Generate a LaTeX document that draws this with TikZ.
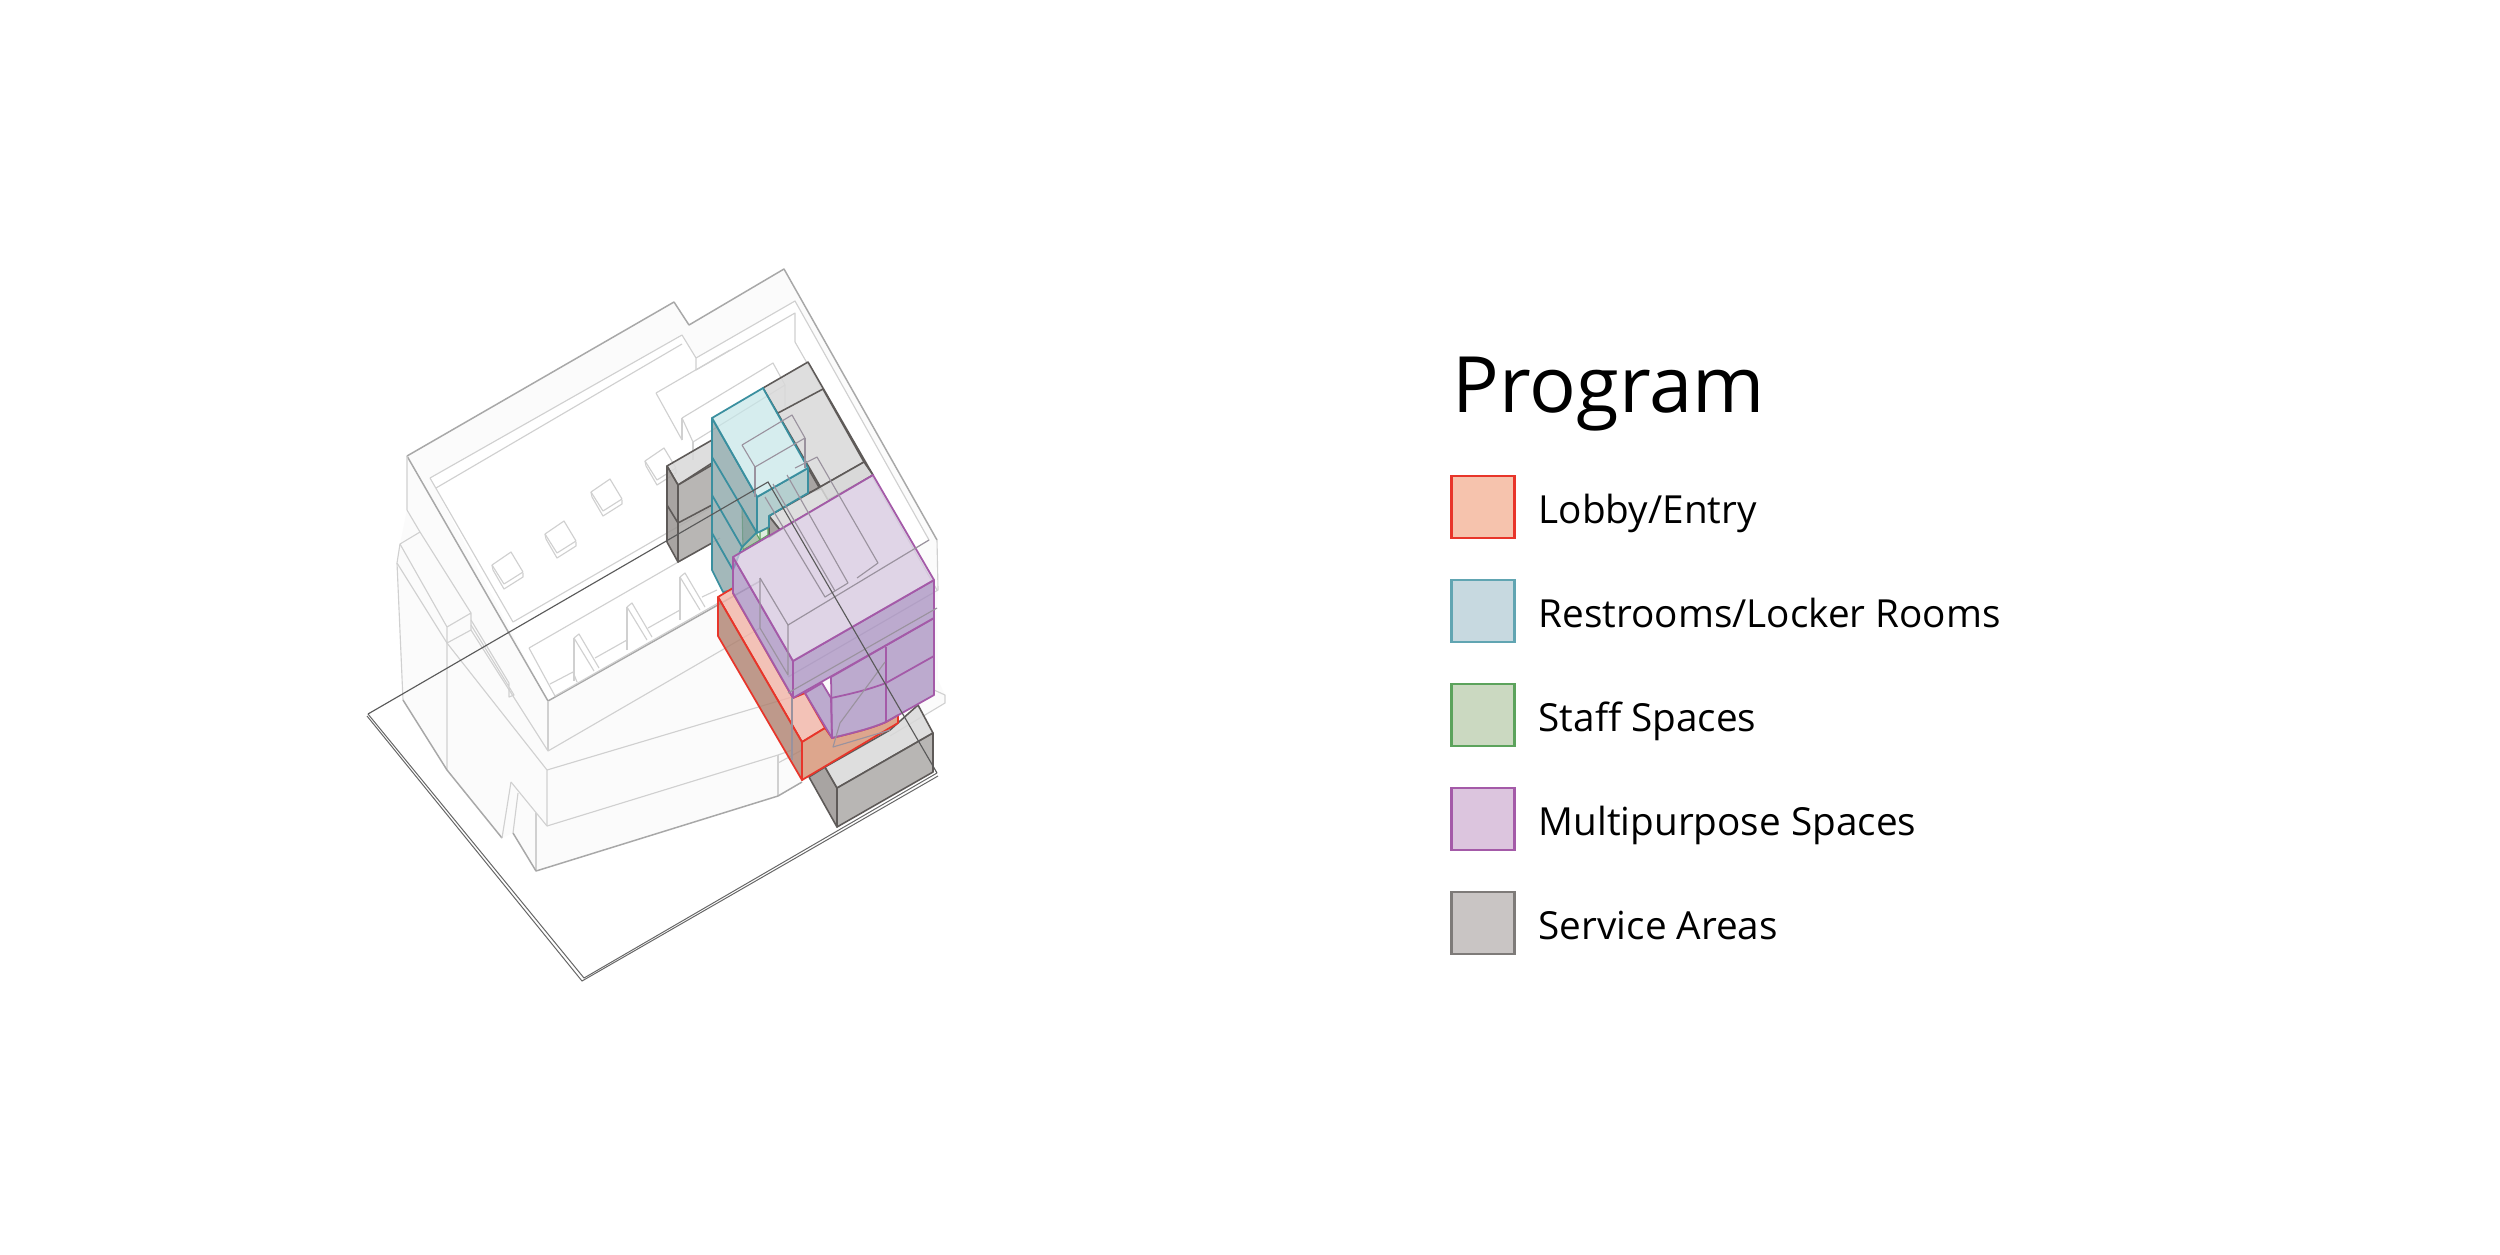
\documentclass[tikz,border=0pt]{standalone}
\usepackage{fontspec}
\setmainfont{Open Sans}
\definecolor{bldline}{HTML}{D0D0D0}
\definecolor{bldedge}{HTML}{A8A8A8}
\definecolor{bldfill}{HTML}{FBFBFB}
\definecolor{overline}{HTML}{9A929E}
\definecolor{lobbyline}{HTML}{E8352A}
\definecolor{roomline}{HTML}{3A8F9F}
\definecolor{staffline}{HTML}{5CA35C}
\definecolor{multiline}{HTML}{A45AA8}
\definecolor{serviceline}{HTML}{5E5A58}
\definecolor{multitop}{HTML}{D6C8E0}
\definecolor{multiside}{HTML}{A78FC0}
\definecolor{roomtop}{HTML}{C6E6E8}
\definecolor{roomleft}{HTML}{7D9B9E}
\definecolor{roomright}{HTML}{96BBBB}
\definecolor{lobbytop}{HTML}{F2B4A7}
\definecolor{lobbyleft}{HTML}{AF816F}
\definecolor{lobbyfront}{HTML}{D69172}
\definecolor{servicetop}{HTML}{D9D9D9}
\definecolor{serviceleft}{HTML}{999592}
\definecolor{servicefront}{HTML}{ACAAA8}
\definecolor{lobbykey}{HTML}{F6C3AD}
\definecolor{roomkey}{HTML}{C7D9E0}
\definecolor{staffkey}{HTML}{CBD9C1}
\definecolor{multikey}{HTML}{DCC5DE}
\definecolor{servicekey}{HTML}{C9C5C4}
\tikzset{
  bld/.style={draw=bldline, line width=0.32pt, line join=round},
  bldout/.style={draw=bldedge, line width=0.42pt, line join=round},
  overbld/.style={draw=overline, line width=0.32pt, line join=round},
  siteedge/.style={draw=black!60, line width=0.28pt},
  lobby/.style={draw=lobbyline, line width=0.5pt, line join=round, fill opacity=0.8},
  room/.style={draw=roomline, line width=0.5pt, line join=round, fill opacity=0.7},
  multi/.style={draw=multiline, line width=0.5pt, line join=round, fill opacity=0.75},
  service/.style={draw=serviceline, line width=0.45pt, line join=round, fill opacity=0.85},
  swatch/.style={minimum width=0.63cm, minimum height=0.62cm, inner sep=0pt, line width=0.6pt},
  legendtext/.style={anchor=base west, inner sep=0pt, font=\fontsize{11}{14}\selectfont},
}
\begin{document}
\begin{tikzpicture}[x=0.01cm,y=-0.01cm]
\useasboundingbox (0,0) rectangle (2500,1254);
\fill[white] (0,0) rectangle (2500,1254);
\draw[siteedge] (367,716) -- (582,981) -- (938,776);
\draw[siteedge] (368,714) -- (584,978) -- (937,773);
\fill[bldfill] (407,456) -- (674,302) -- (689,325) -- (784,269) -- (937,540) -- (938,590) -- (937,608) -- (938,680) -- (945,695) -- (945,703) -- (890,736) -- (802,782) -- (778,796) -- (536,871) -- (513,833) -- (502,838) -- (447,770) -- (403,700) -- (397,563) -- (400,544) -- (407,510) -- cycle;
\fill[white] (430,478) -- (682,335) -- (696,358) -- (795,301) -- (929,540) -- (788,625) -- (760,578) -- (548,701) -- cycle;
\draw[bldout] (407,456) -- (674,302) -- (689,325) -- (784,269) -- (937,540);
\draw[bldout] (407,456) -- (548,701) -- (762,580);
\draw[bld] (937,540) -- (938,590) -- (788,677);
\draw[bld] (407,456) -- (407,510) -- (420,532) -- (400,544) -- (447,627) -- (471,613) -- (471,630) -- (447,643) -- (447,627);
\draw[bld] (400,544) -- (397,563) -- (447,643) -- (447,770);
\draw[bld] (397,563) -- (403,700);
\draw[bldout] (403,700) -- (447,770) -- (502,838);
\draw[bld] (420,532) -- (471,613);
\draw[bld] (471,620) -- (509,683) -- (509,697) -- (514,695) -- (471,625);
\draw[bld] (447,643) -- (547,770) -- (547,826);
\draw[bld] (471,630) -- (548,751) -- (760,628);
\draw[bld] (548,701) -- (548,751);
\draw[bld] (547,770) -- (792,697);
\draw[bld] (547,826) -- (778,755) -- (792,750);
\draw[bld] (778,755) -- (778,796);
\draw[bld] (778,763) -- (802,750);
\draw[bld] (536,813) -- (536,871);
\draw[bld] (511,782) -- (547,826);
\draw[bld] (518,793) -- (513,833);
\draw[bld] (511,782) -- (502,838);
\draw[bldout] (513,833) -- (536,871) -- (778,796) -- (802,782);
\draw[bld] (430,478) -- (682,335) -- (696,358) -- (696,370);
\draw[bld] (436,488) -- (682,344);
\draw[bld] (430,478) -- (513,622) -- (712,507);
\draw[bld] (696,358) -- (795,301) -- (929,540) -- (788,625) -- (760,578);
\draw[bld] (696,370) -- (795,313) -- (795,342);
\draw[bld] (795,342) -- (937,590);
\foreach \sx/\sy in {492/565,545/534,591/492,645/461} {
  \draw[bld] (\sx,\sy) -- ++(19,-13) -- ++(12,20) -- ++(-19,12) -- cycle;
  \draw[bld] (\sx,\sy) -- ++(1,5) -- ++(11,19) -- ++(19,-12) -- ++(0,-4);
}
\draw[bld] (529,648) -- (720,538);
\draw[bld] (529,648) -- (555,696) -- (720,602);
\draw[bld] (550,684) -- (573,672) -- (577,682);
\foreach \wx/\wy in {574/638,627/607,680/577} {
  \draw[bld] (\wx,\wy) -- ++(5,-4) -- ++(20,34);
  \draw[bld] (\wx,\wy) -- ++(0,43);
  \draw[bld] (\wx,\wy) -- ++(20,33);
}
\draw[bld] (595,658) -- (627,640);
\draw[bld] (648,628) -- (680,610);
\draw[bld] (702,597) -- (717,590);
\draw[bld] (656,393) -- (730,350);
\draw[bld] (656,393) -- (682,440);
\draw[bld] (682,418) -- (773,363) -- (785,385) -- (785,407);
\draw[bld] (682,418) -- (682,440);
\draw[bld] (682,418) -- (693,442) -- (785,385);
\draw[bld] (693,442) -- (693,460);
\draw[bld] (890,736) -- (945,703) -- (945,695) -- (934,690);
\filldraw[service,fill=servicetop] (763,388) -- (808,362) -- (873,475) -- (828,500) -- cycle;
\filldraw[service,fill=serviceleft] (808,468) -- (820,489) -- (808,493) -- cycle;
\draw[service] (778,413) -- (823,389) -- (864,462) -- (769,516);
\filldraw[service,fill=servicetop] (769,516) -- (864,462) -- (873,475) -- (780,530) -- cycle;
\filldraw[service,fill=serviceleft] (769,516) -- (780,530) -- (769,537) -- cycle;
\filldraw[service,fill=servicetop] (667,466) -- (712,440) -- (712,463) -- (678,485) -- cycle;
\filldraw[service,fill=serviceleft] (667,466) -- (678,485) -- (678,562) -- (667,542) -- cycle;
\filldraw[service,fill=servicefront] (678,485) -- (712,465) -- (712,543) -- (678,562) -- cycle;
\draw[service] (667,505) -- (678,523) -- (712,505);
\filldraw[service,fill=serviceleft] (809,777) -- (825,767) -- (837,788) -- (837,827) -- cycle;
\filldraw[service,fill=servicetop] (825,767) -- (890,730) -- (918,705) -- (933,733) -- (837,788) -- cycle;
\filldraw[service,fill=servicefront] (837,788) -- (933,733) -- (933,772) -- (837,827) -- cycle;
\filldraw[draw=staffline,line width=0.3pt,fill=staffline!45!gray!55] (742,507) -- (760,540) -- (743,550) -- cycle;
\filldraw[draw=staffline,line width=0.3pt,fill=staffline!20] (760,532) -- (768,528) -- (768,535) -- (760,540) -- cycle;
\filldraw[room,fill=roomleft] (712,418) -- (757,497) -- (757,532) -- (742,547) -- (733,570) -- (733,590) -- (723,592) -- (712,570) -- cycle;
\filldraw[room,fill=roomright] (757,497) -- (808,468) -- (808,493) -- (769,516) -- (769,527) -- (757,533) -- cycle;
\filldraw[room,fill=roomtop] (712,418) -- (763,388) -- (808,468) -- (757,497) -- cycle;
\draw[room] (712,457) -- (757,533);
\draw[room] (712,495) -- (742,547);
\draw[room] (712,533) -- (733,570);
\draw[overbld] (742,445) -- (792,415) -- (805,438) -- (755,467) -- (742,445);
\draw[overbld] (755,467) -- (755,497);
\draw[overbld] (805,438) -- (805,468);
\filldraw[lobby,fill=lobbytop] (718,597) -- (733,588) -- (733,593) -- (793,698) -- (805,693) -- (825,728) -- (802,742) -- cycle;
\filldraw[lobby,fill=lobbyleft] (718,597) -- (802,742) -- (802,780) -- (718,636) -- cycle;
\filldraw[lobby,fill=lobbyfront] (802,742) -- (825,728) -- (832,738) .. controls (852,733) and (870,729) .. (886,722) -- (898,715) -- (898,723) -- (802,780) -- cycle;
\filldraw[multi,fill=multiside] (805,693) -- (822,683) -- (831,698) -- (832,738) -- cycle;
\filldraw[multi,fill=multiside] (831,677) -- (934,618) -- (934,695) -- (886,722) .. controls (870,729) and (852,733) .. (832,738) -- cycle;
\draw[multi] (886,647) -- (886,722);
\draw[multi] (831,698) .. controls (855,693) and (870,689) .. (886,683) -- (934,656);
\filldraw[multi,fill=multiside] (733,557) -- (793,661) -- (793,698) -- (733,593) -- cycle;
\filldraw[multi,fill=multiside] (793,661) -- (934,580) -- (934,618) -- (793,698) -- cycle;
\filldraw[multi,fill=multitop] (733,557) -- (873,475) -- (934,580) -- (793,661) -- cycle;
\draw[overbld] (760,578) -- (788,625) -- (929,540);
\draw[overbld] (760,578) -- (760,628) -- (788,675) -- (788,625);
\draw[overbld] (937,608) -- (788,693);
\draw[overbld] (795,468) -- (817,457) -- (878,563) -- (857,578);
\draw[overbld] (787,475) -- (848,583);
\draw[overbld] (765,497) -- (825,597) -- (848,583);
\draw[overbld] (773,484) -- (835,591);
\draw[overbld] (885,662) -- (840,723) -- (833,747) -- (890,730);
\draw[overbld] (792,698) -- (792,760);
\draw[draw=black!65,line width=0.32pt] (368,714) -- (768,482) -- (937,773);
\node[swatch,draw=lobbyline,fill=lobbykey] (lobbybox) at (1483,507) {};
\node[swatch,draw=roomline!80!white,fill=roomkey] (roombox) at (1483,611) {};
\node[swatch,draw=staffline,fill=staffkey] (staffbox) at (1483,715) {};
\node[swatch,draw=multiline,fill=multikey] (multibox) at (1483,819) {};
\node[swatch,draw=serviceline!80!white,fill=servicekey] (servicebox) at (1483,923) {};
\node[anchor=base west,inner sep=0pt,font=\fontsize{22.1}{27}\selectfont] (title) at (1452,412) {Program};
\node[legendtext] (lobbytext) at (1538,523) {Lobby/Entry};
\node[legendtext] (roomtext) at (1538,627) {Restrooms/Locker Rooms};
\node[legendtext] (stafftext) at (1538,731) {Staff Spaces};
\node[legendtext] (multitext) at (1538,835) {Multipurpose Spaces};
\node[legendtext] (servicetext) at (1538,939) {Service Areas};
\end{tikzpicture}
\end{document}
